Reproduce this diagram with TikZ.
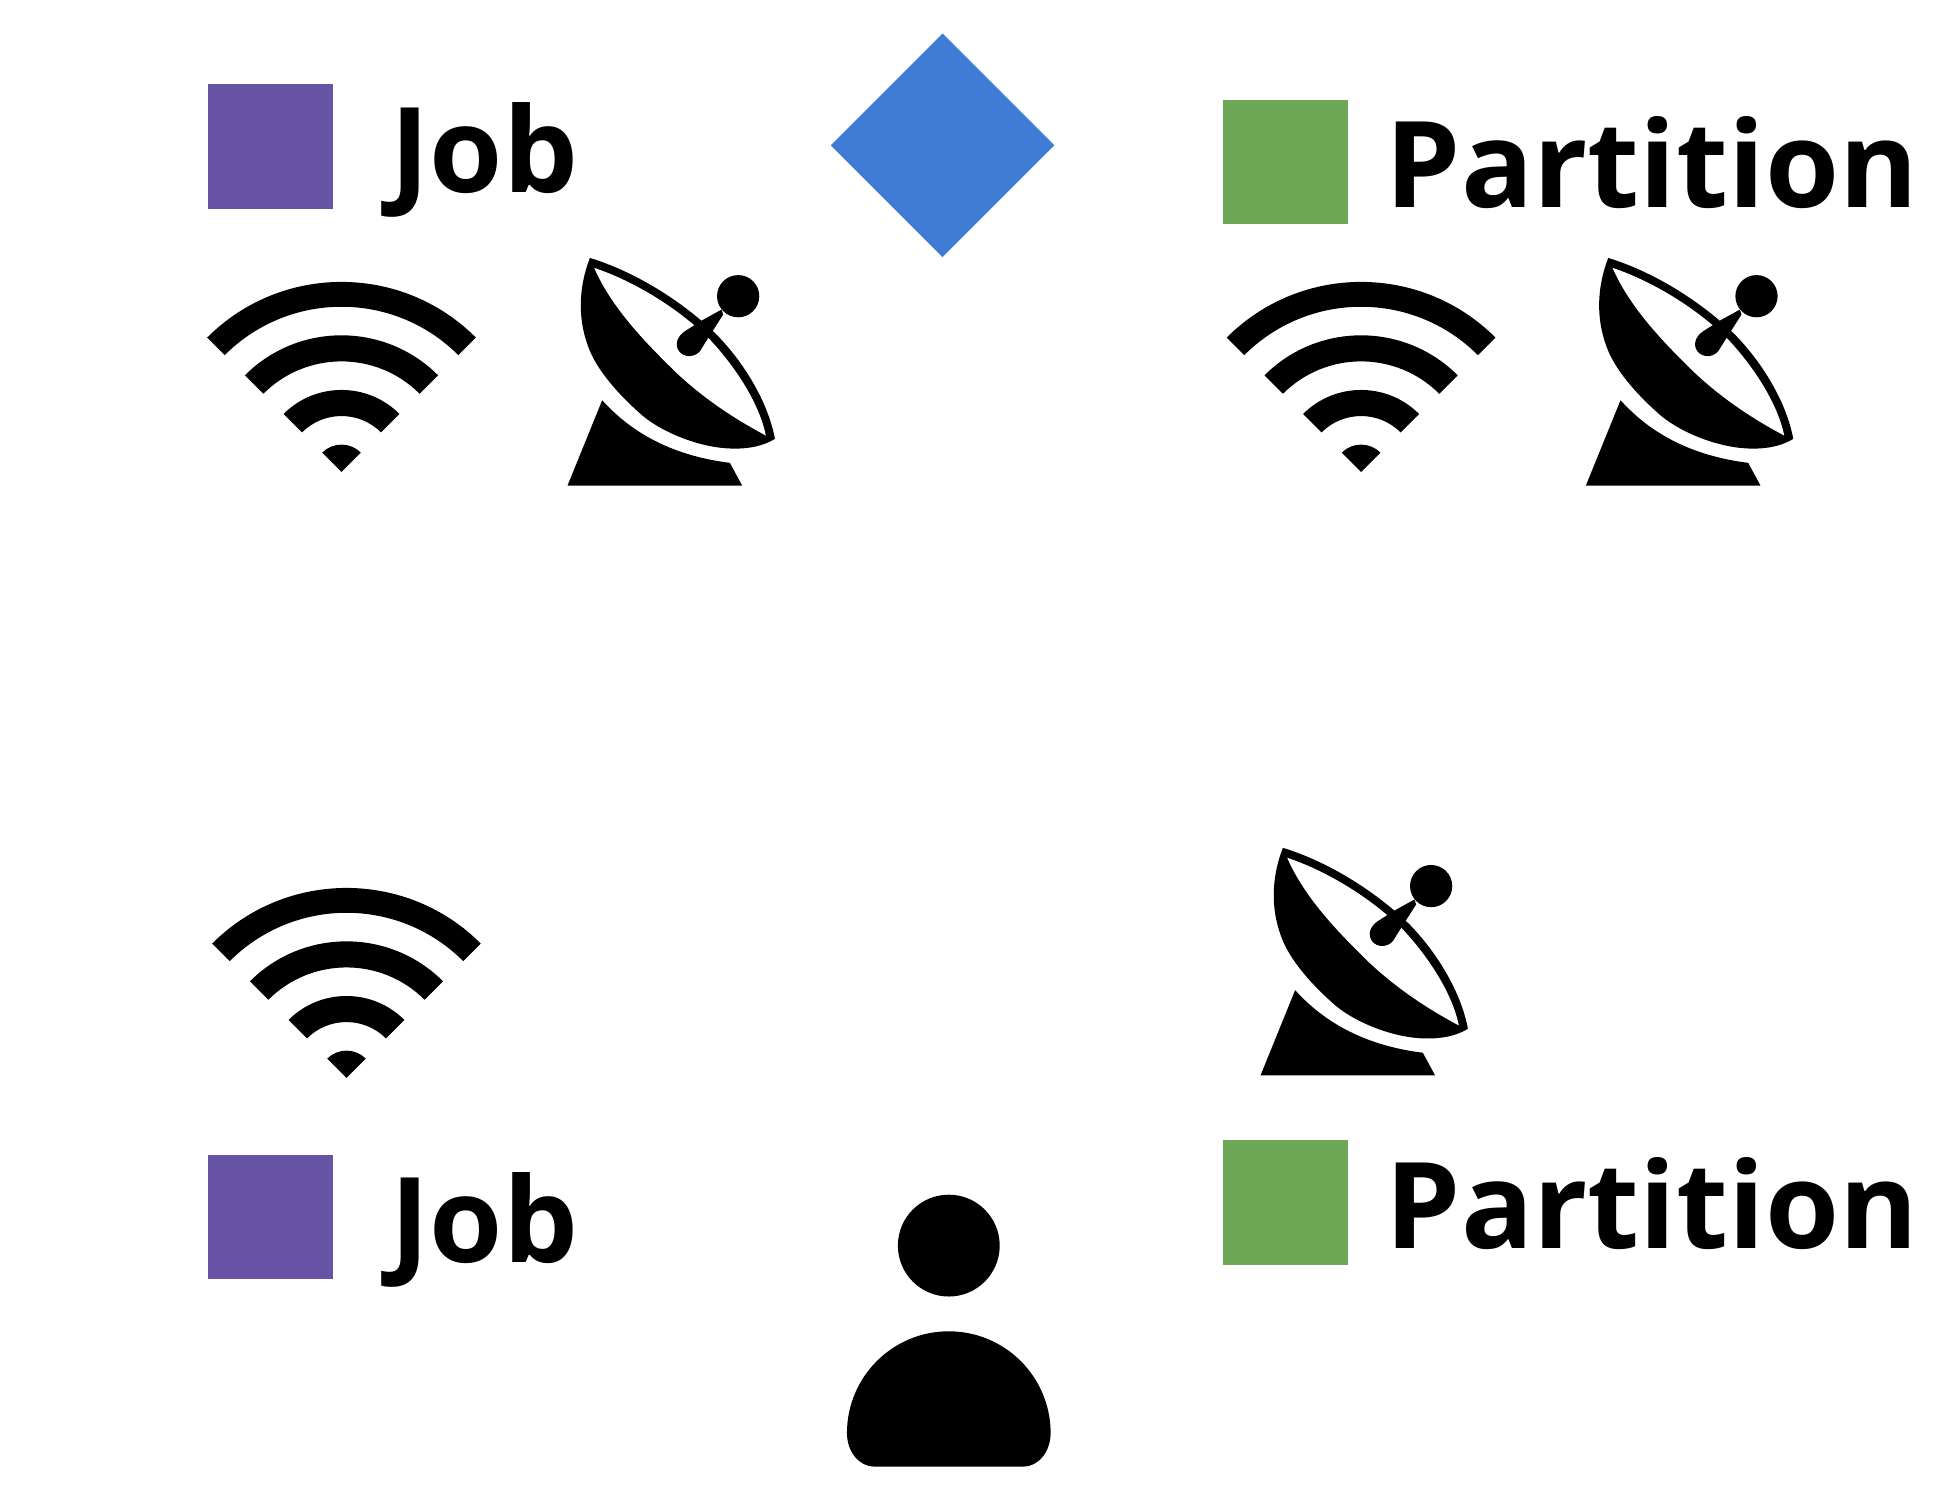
\documentclass[tikz,border=0pt]{standalone}
\usepackage{fontspec}
\setmainfont{Open Sans}
\usepackage{xcolor}
\usetikzlibrary{shapes.geometric}

\definecolor{jobpurple}{RGB}{102,83,163}
\definecolor{partgreen}{RGB}{110,168,86}
\definecolor{hubblue}{RGB}{62,124,214}

\tikzset{
 jobbox/.style={fill=jobpurple, minimum size=62.4pt, inner sep=0pt, outer sep=0pt},
 partbox/.style={fill=partgreen, minimum size=62.4pt, inner sep=0pt, outer sep=0pt},
 hubmark/.style={diamond, fill=hubblue, minimum width=111.8pt, minimum height=111.8pt, inner sep=0pt, outer sep=0pt},
 tag/.style={anchor=base west, inner sep=0pt, outer sep=0pt, font=\fontsize{59.9}{60}\selectfont\bfseries},
 shorttag/.style={tag, font=\fontsize{59.2}{60}\selectfont\bfseries},
 pics/wifiicon/.style={code={
  \fill (225:22) arc[start angle=225, end angle=315, radius=22] -- (0,0) -- cycle;
  \foreach \rin/\rout in {45/66, 89/110, 133/153}
   \fill (225:\rin) arc[start angle=225, end angle=315, radius=\rin]
    -- (315:\rout) arc[start angle=315, end angle=225, radius=\rout] -- cycle;
 }},
 pics/dishicon/.style={code={
  % foot
  \fill (0,0) -- (27.9,-68.7) .. controls (52,-42) and (85,-24) .. (130.7,-18.3) -- (140.6,0) -- cycle;
  % bowl
  \fill (18,-183.3) .. controls (9,-160) and (8,-135) .. (16.6,-112)
   .. controls (23,-94) and (40,-74) .. (61,-55.8)
   .. controls (78,-42) and (108,-30) .. (133.4,-29.8)
   .. controls (146,-29.5) and (158,-32) .. (167,-37.6)
   .. controls (162,-65) and (144,-97) .. (120,-121.6)
   .. controls (93,-148) and (55,-172) .. (18,-183.3) -- cycle;
  \fill [white] (21.5,-175.3) .. controls (55,-164) and (90,-142) .. (114.6,-117.6)
   .. controls (133,-98) and (154,-68) .. (159.7,-40.3)
   .. controls (134,-54) and (110,-70) .. (87.8,-90.7)
   .. controls (65,-113) and (36,-142) .. (21.5,-175.3) -- cycle;
  % feed
  \fill (137.4,-152.5) circle [radius=17];
  \fill (124,-141.7) -- (108.4,-133.1) -- (94.5,-124.3)
   .. controls (88,-120) and (86,-113) .. (90,-108)
   .. controls (94,-103) and (102,-103) .. (106.6,-108.2)
   -- (113.8,-119.7) -- (125.3,-137.7) -- cycle;
 }}
}

\begin{document}
\begin{tikzpicture}[x=0.6209pt, y=-0.6209pt]
 \useasboundingbox (0,0) rectangle (1567,1198.2);

 \node [hubmark] (hub) at (759,117) {};

 \node [jobbox] (jobtop) at (217.5,118) {};
 \node [shorttag] (jobtoptext) at (314.5,155) {Job};
 \node [partbox] (parttop) at (1035,130.5) {};
 \node [tag] (parttoptext) at (1116,167) {Partition};

 \node [jobbox] (jobbot) at (217.5,980) {};
 \node [shorttag] (jobbottext) at (314.5,1017) {Job};
 \node [partbox] (partbot) at (1035,968.5) {};
 \node [tag] (partbottext) at (1116,1005) {Partition};

 \pic at (275,380) {wifiicon};
 \pic at (1096,380) {wifiicon};
 \pic at (279,868) {wifiicon};

 \pic at (457,391) {dishicon};
 \pic at (1277,391) {dishicon};
 \pic at (1015,866) {dishicon};

 % person
 \fill (764,1003) circle [radius=41];
 \fill (682,1154) arc [start angle=180, end angle=360, radius=82]
  .. controls (846,1169) and (836,1181) .. (824,1181) -- (704,1181)
  .. controls (692,1181) and (682,1169) .. (682,1154) -- cycle;
\end{tikzpicture}
\end{document}
